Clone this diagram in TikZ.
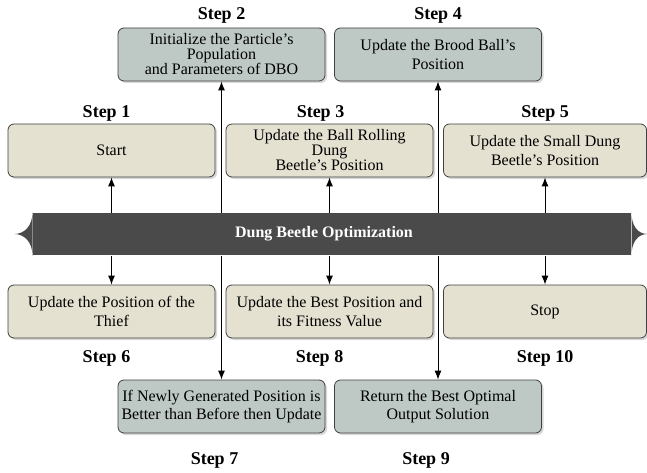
\documentclass[tikz,border=0pt]{standalone}
\usepackage{fontspec}
\setmainfont{Liberation Serif}
\usetikzlibrary{arrows.meta,calc,positioning,shadows}

\definecolor{bannergrey}{HTML}{4A4A4A}
\definecolor{boxtan}{HTML}{E5E1D1}
\definecolor{boxgrey}{HTML}{BEC9C6}

\tikzset{
	stepbox/.style={draw=black!75, line width=0.8pt, rounded corners=6pt, minimum width=207pt, minimum height=53pt, align=center, inner sep=2pt, font=\fontsize{16}{18.5}\selectfont, drop shadow={shadow xshift=2pt, shadow yshift=-2pt, fill=black!30, opacity=0.5}},
	tanbox/.style={stepbox, fill=boxtan},
	greybox/.style={stepbox, fill=boxgrey},
	steplbl/.style={font=\fontsize{18}{20}\selectfont\bfseries, inner sep=0pt},
	banner/.style={fill=bannergrey, text=white, minimum width=598pt, minimum height=42pt, inner sep=0pt, font=\fontsize{16}{18}\selectfont\bfseries}
}

\begin{document}
\begin{tikzpicture}[x=1pt, y=-1pt, >={Latex[length=9pt,width=7pt]}, line width=1pt]
			\useasboundingbox (0,0) rectangle (647,473);
			
			% Draw the banner
			\node[banner] (dbo) at (332,234) {\hspace*{-16pt}Dung Beetle Optimization};
			\fill[bannergrey] (dbo.north west) .. controls +(0,13) and +(10,0) .. ($(dbo.west)+(-18,0)$) .. controls +(10,0) and +(0,-13) .. (dbo.south west) -- cycle;
			\fill[bannergrey] (dbo.north east) .. controls +(0,13) and +(-10,0) .. ($(dbo.east)+(16,0)$) .. controls +(-10,0) and +(0,-13) .. (dbo.south east) -- cycle;
			
			% Draw the upper steps
			\node[tanbox] (s1) at (111.5,150.5) {Start};
			\node[greybox, font=\fontsize{16}{15}\selectfont] (s2) at (221.5,54.5) {Initialize the Particle's\\Population\\and Parameters of DBO};
			\node[tanbox, font=\fontsize{16}{15}\selectfont] (s3) at (329.5,150.5) {Update the Ball Rolling\\Dung\\Beetle's Position};
			\node[greybox] (s4) at (438,54.5) {Update the Brood Ball's\\Position};
			\node[tanbox, minimum width=203pt] (s5) at (545,150.5) {Update the Small Dung\\Beetle's Position};
			
			% Draw the lower steps
			\node[tanbox] (s6) at (111.5,311.5) {Update the Position of the\\Thief};
			\node[greybox] (s7) at (221.5,406.5) {If Newly Generated Position is\\Better than Before then Update};
			\node[tanbox] (s8) at (329.5,311.5) {Update the Best Position and\\its Fitness Value};
			\node[greybox] (s9) at (438,406.5) {Return the Best Optimal\\Output Solution};
			\node[tanbox, minimum width=203pt] (s10) at (545,311.5) {Stop};
			
			% Draw the step labels
			\node[steplbl, above=1.5pt of s1, xshift=-5pt] {Step 1};
			\node[steplbl, above=3.5pt of s2] {Step 2};
			\node[steplbl, above=1.5pt of s3, xshift=-9pt] {Step 3};
			\node[steplbl, above=3.5pt of s4] {Step 4};
			\node[steplbl, above=1.5pt of s5] {Step 5};
			\node[steplbl, below=12pt of s6, xshift=-5pt] {Step 6};
			\node[steplbl, below=19pt of s7, xshift=-7pt] {Step 7};
			\node[steplbl, below=12pt of s8, xshift=-10pt] {Step 8};
			\node[steplbl, below=19pt of s9, xshift=-12pt] {Step 9};
			\node[steplbl, below=12pt of s10] {Step 10};
			
			% Draw the arrows
			\foreach \s in {s1,s2,s3,s4,s5}
			{
				\draw[->] (\s |- dbo.north) -- (\s.south);
			}
			\foreach \s in {s6,s7,s8,s9,s10}
			{
				\draw[->] (\s |- dbo.south) -- (\s.north);
			}
			
		\end{tikzpicture}
\end{document}
